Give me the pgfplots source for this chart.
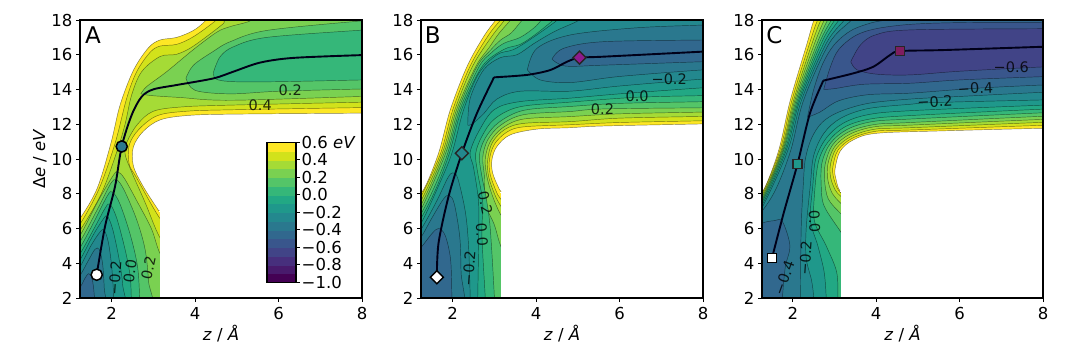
\documentclass[border=0pt]{standalone}
\usepackage{fontspec}
\setmainfont{DejaVu Sans}
\usepackage{pgfplots}
\pgfplotsset{compat=1.18}
\definecolor{vA}{HTML}{FDE725}\definecolor{vB}{HTML}{D2E21B}\definecolor{vC}{HTML}{A5DB36}
\definecolor{vD}{HTML}{7AD151}\definecolor{vE}{HTML}{54C568}\definecolor{vF}{HTML}{35B779}
\definecolor{vG}{HTML}{22A884}\definecolor{vH}{HTML}{1F988B}\definecolor{vI}{HTML}{23888E}
\definecolor{vJ}{HTML}{2A788E}\definecolor{vK}{HTML}{31688E}\definecolor{vL}{HTML}{39568C}
\definecolor{vM}{HTML}{414487}\definecolor{vN}{HTML}{472F7D}\definecolor{vO}{HTML}{481A6C}\definecolor{vP}{HTML}{440154}
\definecolor{mkB}{HTML}{8E1A8E}\definecolor{mkC}{HTML}{7F1D5F}
\newcommand{\fs}{\fontsize{16.5}{18}\selectfont}
\newcommand{\ct}[2]{\addplot[smooth,tension=0.55,draw=black,draw opacity=0.5,line width=0.45pt,mark=none,fill=#1] coordinates {#2};}
\newcommand{\cl}[4]{\node[rotate=#3,opacity=0.8,font=\fontsize{14.5}{16}\selectfont,inner sep=0pt] at (axis cs:#1,#2) {#4};}
\newcommand{\cover}[1]{\addplot[fill=white,draw=white,line width=0pt,mark=none] coordinates {(3.15,1)(9,1)(9,#1)(3.15,#1)};}
\pgfplotsset{panel/.style={
  anchor=south west, scale only axis, width=282pt, height=278pt,
  xmin=1.24,xmax=8,ymin=2,ymax=18,
  xtick={2,4,6,8}, ytick={2,4,6,8,10,12,14,16,18},
  xtick pos=bottom, ytick pos=left, tick align=outside, major tick length=4pt,
  tick style={black,line width=0.9pt}, axis line style={line width=1.2pt},
  axis on top, tick label style={font=\fs},
  xticklabel style={yshift=-1.5pt},
  label style={font=\fs},
  xlabel={\textit{z} / \textit{Å}},
  /pgf/number format/assume math mode=true,
  xlabel style={yshift=1pt}},
  pth/.style={smooth,tension=0.5,draw=black!90!blue,line width=1.9pt,mark=none}
}
\begin{document}
\begin{tikzpicture}[x=1pt,y=1pt]
\path[use as bounding box] (0,0) rectangle (1080,354);
%% ---------- A ----------
\begin{axis}[panel,at={(80pt,56pt)},ylabel={Δ\textit{e} / \textit{eV}},ylabel style={yshift=-2pt}]
\ct{vA}{(1,6.0)(1.24,6.58)(1.65,8.3)(1.98,10.9)(2.2,13.1)(2.52,15.1)(2.88,16.4)(3.16,16.85)(3.56,17.0)(3.96,17.4)(4.24,17.94)(4.4,18.5)(8.5,18.6)(8.5,12.66)(8,12.64)(4.84,12.58)(3.8,12.5)(3.16,12.25)(2.76,11.6)(2.52,10.7)(2.52,9.6)(2.76,8.4)(3.12,7.05)(3.3,6.4)(3.3,1)(1,1)}
\ct{vB}{(1,5.7)(1.24,6.25)(1.7,8.3)(2.08,10.9)(2.36,13.5)(2.6,15.03)(2.92,16.14)(3.16,16.5)(3.56,16.6)(3.96,17.04)(4.48,17.94)(4.7,18.5)(8.5,18.6)(8.5,12.98)(8,12.96)(4.84,12.83)(3.8,12.75)(3.1,12.5)(2.65,11.7)(2.42,10.8)(2.42,9.7)(2.6,8.9)(3.15,6.6)(3.5,5.8)(3.5,1)(1,1)}
\ct{vC}{(1,5.4)(1.24,5.9)(1.75,8.0)(2.12,10.4)(2.32,12)(2.48,13.7)(2.72,15.03)(3.16,15.9)(3.56,16.03)(3.96,16.5)(4.68,17.8)(4.85,18.3)(8.5,18.6)(8.5,13.29)(8,13.27)(4.84,13.1)(3.7,13.0)(3.0,12.75)(2.62,12.0)(2.37,11)(2.32,10.3)(2.47,9.3)(2.8,7.5)(3.15,5.5)(3.5,4.5)(3.5,1)(1,1)}
\ct{vD}{(2.7,13.75)(2.84,14.17)(3.32,15.03)(3.96,16.3)(4.52,17.3)(4.84,17.62)(5.32,17.95)(5.6,18.5)(8.5,18.6)(8.5,13.62)(8,13.6)(4.84,13.38)(3.64,13.54)(2.95,13.65)(2.7,13.75)}
\ct{vD}{(1,5.0)(1.24,5.6)(1.7,7.7)(2.05,9.1)(2.15,9.25)(2.3,8.9)(2.6,7.6)(2.95,6.0)(3.15,4.6)(3.5,3)(3.5,1)(1,1)}
\ct{vE}{(3.78,14.65)(3.96,15.4)(4.44,16.2)(4.84,16.75)(5.72,17.4)(8,17.95)(8.5,18.0)(8.5,14.05)(8,14.03)(6,13.9)(4.84,13.75)(4.0,13.95)(3.78,14.65)}
\ct{vF}{(4.44,15.0)(4.6,15.89)(4.92,16.46)(5.72,17.0)(8,17.42)(8.5,17.5)(8.5,14.57)(8,14.55)(6,14.45)(4.92,14.45)(4.5,14.6)(4.44,15.0)}
\ct{vE}{(1,4.7)(1.24,5.25)(1.7,7.3)(1.98,8.6)(2.12,8.8)(2.3,8.2)(2.6,6.5)(2.8,4.8)(2.88,3)(2.88,1)(1,1)}
\ct{vF}{(1,4.3)(1.24,4.9)(1.6,6.5)(1.9,7.9)(2.02,8.1)(2.2,7.4)(2.45,5.6)(2.62,3.8)(2.67,2)(2.67,1)(1,1)}
\ct{vG}{(1,4.0)(1.24,4.55)(1.6,6.1)(1.85,7.2)(1.96,7.4)(2.12,6.6)(2.32,4.8)(2.44,3.3)(2.47,2)(2.47,1)(1,1)}
\ct{vH}{(1,3.6)(1.24,4.2)(1.55,5.6)(1.8,6.55)(1.9,6.7)(2.03,5.9)(2.18,4.2)(2.26,2.8)(2.27,1)(1,1)}
\ct{vI}{(1,3.2)(1.24,3.8)(1.5,5)(1.72,5.8)(1.82,5.9)(1.92,5.2)(2.0,3.8)(2.05,2)(2.05,1)(1,1)}
\ct{vJ}{(1,2.7)(1.24,3.3)(1.45,4.2)(1.6,4.8)(1.7,4.8)(1.78,4.0)(1.82,2.6)(1.83,1)(1,1)}
\ct{vK}{(1,2.0)(1.24,2.6)(1.35,3.1)(1.45,3.4)(1.53,3.1)(1.58,2.2)(1.58,1)(1,1)}
\cover{7.0}
\addplot[pth] coordinates {(1.64,3.34)(1.84,6.12)(2.08,8.42)(2.24,10.72)(2.48,12.54)(2.72,13.59)(3.0,14.01)(3.56,14.26)(4.44,14.64)(4.92,15.03)(5.56,15.55)(6.36,15.82)(8,15.98)};
\addplot[only marks,mark=*,mark size=5.6pt,mark options={fill=white,draw=black,line width=1.5pt}] coordinates {(1.64,3.34)};
\addplot[only marks,mark=*,mark size=5.6pt,mark options={fill=vJ,draw=black,line width=1.5pt}] coordinates {(2.24,10.72)};
\cl{6.28}{13.98}{0}{0.2}\cl{5.56}{13.07}{0}{0.4}
\cl{2.08}{3.15}{86}{−0.2}\cl{2.44}{3.53}{82}{0.0}\cl{2.88}{3.72}{78}{0.2}
\node[anchor=west,font=\fontsize{23}{25}\selectfont,inner sep=0pt] at (axis cs:1.36,17.15) {A};
\end{axis}
%% ---------- colour bar ----------
\begin{axis}[at={(267pt,71.7pt)},anchor=south west,scale only axis,width=29pt,height=140pt,
  xmin=0,xmax=1,ymin=-1,ymax=0.6,xtick=\empty,
  ytick={-1,-0.8,-0.6,-0.4,-0.2,0,0.2,0.4,0.6},
  yticklabels={−1.0,−0.8,−0.6,−0.4,−0.2,0.0,0.2,0.4,{0.6 \textit{eV}}},
  ytick pos=right,tick align=outside,major tick length=4pt,tick style={black,line width=0.9pt},
  axis line style={line width=1.1pt},axis on top,
  tick label style={font=\fs,inner sep=1.5pt},yticklabel style={anchor=west}]
\addplot[fill=vP,draw=vP,line width=.2pt] coordinates {(0,-1)(1,-1)(1,-.9)(0,-.9)};
\addplot[fill=vO,draw=vO,line width=.2pt] coordinates {(0,-.9)(1,-.9)(1,-.8)(0,-.8)};
\addplot[fill=vN,draw=vN,line width=.2pt] coordinates {(0,-.8)(1,-.8)(1,-.7)(0,-.7)};
\addplot[fill=vM,draw=vM,line width=.2pt] coordinates {(0,-.7)(1,-.7)(1,-.6)(0,-.6)};
\addplot[fill=vL,draw=vL,line width=.2pt] coordinates {(0,-.6)(1,-.6)(1,-.5)(0,-.5)};
\addplot[fill=vK,draw=vK,line width=.2pt] coordinates {(0,-.5)(1,-.5)(1,-.4)(0,-.4)};
\addplot[fill=vJ,draw=vJ,line width=.2pt] coordinates {(0,-.4)(1,-.4)(1,-.3)(0,-.3)};
\addplot[fill=vI,draw=vI,line width=.2pt] coordinates {(0,-.3)(1,-.3)(1,-.2)(0,-.2)};
\addplot[fill=vH,draw=vH,line width=.2pt] coordinates {(0,-.2)(1,-.2)(1,-.1)(0,-.1)};
\addplot[fill=vG,draw=vG,line width=.2pt] coordinates {(0,-.1)(1,-.1)(1,0)(0,0)};
\addplot[fill=vF,draw=vF,line width=.2pt] coordinates {(0,0)(1,0)(1,.1)(0,.1)};
\addplot[fill=vE,draw=vE,line width=.2pt] coordinates {(0,.1)(1,.1)(1,.2)(0,.2)};
\addplot[fill=vD,draw=vD,line width=.2pt] coordinates {(0,.2)(1,.2)(1,.3)(0,.3)};
\addplot[fill=vC,draw=vC,line width=.2pt] coordinates {(0,.3)(1,.3)(1,.4)(0,.4)};
\addplot[fill=vB,draw=vB,line width=.2pt] coordinates {(0,.4)(1,.4)(1,.5)(0,.5)};
\addplot[fill=vA,draw=vA,line width=.2pt] coordinates {(0,.5)(1,.5)(1,.6)(0,.6)};
\end{axis}
%% ---------- B ----------
\begin{axis}[panel,at={(421pt,56pt)}]
\ct{vA}{(1.0,7.6)(1.3,8.23)(1.66,10.33)(1.94,12.82)(2.34,15.31)(2.74,17.04)(3.02,17.96)(3.2,18.5)(8.5,18.6)(8.5,12.06)(8,12.02)(5.62,11.9)(4.8,11.8)(4.02,11.72)(3.38,11.39)(3.06,10.72)(2.94,9.95)(2.96,9.18)(3.12,8.25)(3.22,7.9)(3.4,7)(3.4,1)(1,1)}
\ct{vB}{(1,7.3)(1.24,7.85)(1.71,10.33)(2.0,12.82)(2.41,15.31)(2.85,17.1)(3.14,17.98)(3.35,18.5)(8.5,18.6)(8.5,12.24)(8,12.2)(6,12.1)(4.8,11.97)(3.7,11.85)(3.3,11.55)(3.0,10.85)(2.88,9.95)(2.9,9.1)(3.05,8.1)(3.15,7.7)(3.5,6.5)(3.5,1)(1,1)}
\ct{vC}{(1,7.05)(1.24,7.6)(1.75,10.33)(2.05,12.82)(2.47,15.31)(2.92,17.0)(3.24,17.98)(3.4,18.5)(8.5,18.6)(8.5,12.47)(8,12.45)(6,12.35)(4.8,12.15)(3.7,12.05)(3.25,11.7)(2.95,10.95)(2.84,9.95)(2.86,9)(3.0,8)(3.15,7.3)(3.5,6)(3.5,1)(1,1)}
\ct{vD}{(1,6.8)(1.24,7.35)(1.79,10.33)(2.09,12.82)(2.55,15.31)(2.87,16.4)(3.1,17.2)(3.38,17.98)(3.55,18.5)(8.5,18.6)(8.5,12.72)(8,12.7)(6,12.6)(4.8,12.44)(3.7,12.3)(3.2,11.8)(2.9,11)(2.78,10)(2.82,9)(2.95,7.9)(3.15,6.8)(3.5,5.5)(3.5,1)(1,1)}
\ct{vE}{(1,6.55)(1.24,7.1)(1.83,10.33)(2.13,12.82)(2.58,15.31)(2.9,16.25)(3.15,16.85)(3.4,17.25)(3.66,17.98)(3.85,18.5)(8.5,18.6)(8.5,12.97)(8,12.95)(5.6,12.88)(4.8,12.73)(3.7,12.55)(3.15,11.95)(2.84,11.1)(2.72,10.1)(2.76,9.0)(2.78,7.46)(3.0,6.2)(3.15,5.0)(3.5,3)(3.5,1)(1,1)}
\ct{vF}{(1,6.3)(1.24,6.85)(1.6,8.6)(1.88,10.33)(2.17,12.82)(2.63,15.31)(2.92,16.1)(3.22,16.65)(3.62,17.0)(3.95,17.55)(4.12,17.98)(4.3,18.5)(8.5,18.6)(8.5,13.35)(8,13.3)(6,13.2)(4.8,13.02)(3.7,12.8)(3.1,12.1)(2.78,11.2)(2.64,10.2)(2.7,9.0)(2.8,7.8)(2.9,6)(3.0,2)(3,1)(1,1)}
\ct{vG}{(1,6.05)(1.24,6.6)(1.6,8.3)(1.92,10.33)(2.21,12.82)(2.7,15.31)(3.22,16.3)(3.62,16.6)(4.0,17.2)(4.4,17.98)(4.6,18.5)(8.5,18.6)(8.5,13.7)(8,13.65)(6.4,13.55)(4.8,13.27)(3.6,13.0)(3.0,12.3)(2.7,11.3)(2.55,10.3)(2.6,9.2)(2.72,7.5)(2.7,5.6)(2.78,2)(2.78,1)(1,1)}
\ct{vH}{(1,5.75)(1.24,6.3)(1.65,8.4)(1.98,10.33)(2.26,12.82)(2.62,14.9)(3.06,16.0)(3.46,16.3)(3.9,16.95)(4.5,17.98)(4.7,18.5)(8.5,18.6)(8.5,14.15)(8,14.1)(6,13.75)(4.8,13.5)(3.6,13.3)(3.0,12.85)(2.65,11.7)(2.42,10.4)(2.5,9.5)(2.62,7.5)(2.62,5)(2.6,2)(2.6,1)(1,1)}
\ct{vI}{(2.36,11.95)(2.42,13.5)(2.74,15.13)(3.14,15.83)(3.54,16.0)(3.95,16.65)(4.45,17.35)(5.0,17.95)(5.3,18.5)(8.5,18.5)(8.5,14.65)(8,14.6)(6,14.2)(4.8,13.9)(3.62,13.9)(3.06,13.45)(2.74,12.6)(2.46,12.0)(2.36,11.95)}
\ct{vJ}{(3.79,15.13)(4.02,16.37)(4.82,17.14)(6.4,17.55)(8,17.71)(8.5,17.75)(8.5,15.15)(8,15.13)(6,14.75)(4.82,14.4)(4.1,14.55)(3.79,15.13)}
\ct{vK}{(4.38,15.75)(4.66,16.37)(5.6,16.75)(8,16.85)(8.5,16.87)(8.5,15.62)(8,15.6)(5.6,15.4)(4.7,15.35)(4.38,15.75)}
\ct{vI}{(1,5.3)(1.24,5.95)(1.6,7.5)(1.88,8.9)(2.0,9.2)(2.12,8.9)(2.3,7)(2.38,5)(2.42,2)(2.42,1)(1,1)}
\ct{vJ}{(1,4.9)(1.24,5.5)(1.5,6.6)(1.78,7.7)(1.92,7.9)(2.04,7.4)(2.17,5.5)(2.2,3.5)(2.22,1)(1,1)}
\ct{vK}{(1,4.3)(1.24,4.9)(1.5,5.7)(1.66,6.0)(1.82,5.6)(1.95,4.2)(1.98,2)(1.98,1)(1,1)}
\cover{8.1}
\addplot[pth] coordinates {(1.62,3.19)(1.66,5.16)(1.9,7.84)(2.22,10.33)(2.58,12.63)(2.99,14.7)};
\addplot[pth] coordinates {(2.99,14.7)(3.78,14.84)(4.34,15.12)(4.74,15.6)(5.04,15.83)(5.62,15.89)(8,16.18)};
\addplot[only marks,mark=square*,mark size=4.6pt,mark options={rotate=45,fill=white,draw=black,line width=1.4pt}] coordinates {(1.62,3.19)};
\addplot[only marks,mark=square*,mark size=4.6pt,mark options={rotate=45,fill=vI,draw=black!85,line width=1.4pt}] coordinates {(2.22,10.33)};
\addplot[only marks,mark=square*,mark size=4.6pt,mark options={rotate=45,fill=mkB,draw=black!85,line width=1.4pt}] coordinates {(5.04,15.83)};
\cl{7.19}{14.59}{0}{−0.2}\cl{6.42}{13.59}{0}{0.0}\cl{5.59}{12.88}{0}{0.2}
\cl{2.78}{7.46}{-78}{0.2}\cl{2.7}{5.64}{-86}{0.0}\cl{2.39}{3.72}{86}{−0.2}
\node[anchor=west,font=\fontsize{23}{25}\selectfont,inner sep=0pt] at (axis cs:1.33,17.15) {B};
\end{axis}
%% ---------- C ----------
\begin{axis}[panel,at={(762pt,56pt)},width=281pt,xmin=1.26]
\ct{vA}{(1,7.6)(1.3,8.23)(1.66,10.5)(1.94,13.4)(2.34,16.65)(2.5,17.96)(2.65,18.6)(8.5,18.6)(8.5,11.79)(8,11.77)(5.6,11.62)(4.01,11.48)(3.45,11.1)(3.13,10.43)(3.01,9.38)(3.03,8.9)(3.09,8.35)(3.2,7.85)(3.35,7)(3.35,1)(1,1)}
\ct{vB}{(1,7.5)(1.26,8.0)(1.69,10.5)(1.98,13.4)(2.4,16.65)(2.59,17.98)(2.75,18.6)(8.5,18.6)(8.5,11.96)(8,11.94)(4.82,11.67)(4.0,11.6)(3.43,11.2)(3.08,10.5)(2.96,9.55)(2.97,9.0)(3.05,8.4)(3.15,8.05)(3.5,7.2)(3.5,1)(1,1)}
\ct{vC}{(1,7.4)(1.26,7.9)(1.72,10.5)(2.02,13.4)(2.46,16.65)(2.67,17.98)(2.85,18.6)(8.5,18.6)(8.5,12.13)(8,12.11)(4.82,11.8)(3.98,11.72)(3.4,11.3)(3.04,10.6)(2.9,9.65)(2.91,8.9)(3.02,8.2)(3.15,7.85)(3.5,7)(3.5,1)(1,1)}
\ct{vD}{(1,7.3)(1.26,7.8)(1.74,10.5)(2.05,13.4)(2.52,16.65)(2.75,17.98)(2.9,18.6)(8.5,18.6)(8.5,12.3)(8,12.28)(4.82,11.95)(3.95,11.85)(3.37,11.43)(3.0,10.7)(2.84,9.7)(2.84,8.8)(2.95,8)(3.15,7.45)(3.5,6.6)(3.5,1)(1,1)}
\ct{vE}{(1,7.2)(1.26,7.7)(1.76,10.5)(2.08,13.4)(2.58,16.65)(2.83,17.98)(3,18.6)(8.5,18.6)(8.5,12.48)(8,12.46)(4.82,12.1)(3.95,11.98)(3.33,11.55)(2.95,10.8)(2.78,9.75)(2.76,8.8)(2.85,7.7)(3.15,6.85)(3.5,6)(3.5,1)(1,1)}
\ct{vF}{(1,7.1)(1.26,7.6)(1.78,10.5)(2.11,13.4)(2.63,16.65)(2.92,17.98)(3.1,18.6)(8.5,18.6)(8.5,12.68)(8,12.66)(4.82,12.3)(3.9,12.15)(3.3,11.7)(2.9,10.9)(2.7,9.8)(2.68,8.5)(2.75,7.3)(3.15,5.8)(3.5,4.5)(3.5,1)(1,1)}
\ct{vG}{(1,7.0)(1.26,7.5)(1.81,10.5)(2.14,13.4)(2.68,16.65)(3.0,17.98)(3.2,18.6)(8.5,18.6)(8.5,12.89)(8,12.87)(4.82,12.5)(3.85,12.3)(3.25,11.85)(2.85,11)(2.62,9.9)(2.52,8)(2.52,6.41)(2.8,5)(3.05,3.5)(3.08,2)(3.08,1)(1,1)}
\ct{vH}{(1,6.85)(1.26,7.35)(1.84,10.5)(2.17,13.4)(2.74,16.65)(3.1,17.98)(3.3,18.6)(8.5,18.6)(8.5,13.12)(8,13.1)(4.82,12.78)(3.8,12.55)(3.2,12.05)(2.8,11.2)(2.55,10)(2.48,8.5)(2.42,6.5)(2.6,5)(2.75,3.5)(2.8,2)(2.8,1)(1,1)}
\ct{vI}{(1,6.7)(1.26,7.2)(1.88,10.5)(2.21,13.4)(2.8,16.65)(3.23,17.98)(3.45,18.6)(8.5,18.6)(8.5,13.42)(8,13.4)(5.41,13.25)(4.82,13.15)(3.8,12.9)(3.15,12.35)(2.75,11.5)(2.5,10.2)(2.42,8.5)(2.32,6)(2.32,4.3)(2.45,3)(2.5,2)(2.5,1)(1,1)}
\ct{vJ}{(1,6.5)(1.26,7.0)(1.6,8.3)(1.95,10.5)(2.26,13.4)(2.87,16.65)(3.4,17.98)(3.6,18.5)(8.5,18.6)(8.5,13.86)(8,13.84)(6,13.6)(4.82,13.45)(3.8,13.2)(3.1,12.7)(2.7,12.1)(2.45,11.2)(2.3,10)(2.25,8.5)(2.2,6)(2.18,2)(2.18,1)(1,1)}
\ct{vK}{(2.35,12.4)(2.5,14)(2.72,15.5)(3.0,16.6)(3.4,17.4)(3.9,17.85)(4.3,18.05)(4.5,18.5)(8.5,18.5)(8.5,14.28)(8,14.26)(6.38,14.07)(4.82,13.79)(3.8,13.7)(3.1,13.35)(2.65,12.7)(2.35,12.4)}
\ct{vL}{(2.74,14.0)(2.9,15.3)(3.1,16.3)(3.5,17.1)(4.0,17.5)(4.82,17.75)(6,17.85)(8,17.87)(8.5,17.9)(8.5,14.76)(8,14.74)(6,14.55)(4.82,14.36)(3.7,14.3)(3.0,14.05)(2.74,14.0)}
\ct{vM}{(3.39,15.6)(3.62,16.56)(3.98,17.14)(4.82,17.43)(8,17.5)(8.5,17.5)(8.5,15.32)(8,15.3)(6,15.05)(4.82,14.84)(4.02,14.88)(3.54,15.13)(3.39,15.6)}
\ct{vK}{(1,5.8)(1.26,6.3)(1.55,6.45)(1.75,6.4)(1.93,5.0)(1.82,3.8)(1.75,2)(1.75,1)(1,1)}
\cover{8.15}
\addplot[pth] coordinates {(1.5,4.3)(1.78,6.89)(2.11,9.7)(2.41,12.63)(2.73,14.51)};
\addplot[pth] coordinates {(2.73,14.51)(3.45,14.93)(3.93,15.31)(4.33,15.98)(4.57,16.21)(5.61,16.27)(8,16.46)};
\addplot[only marks,mark=square*,mark size=4.5pt,mark options={fill=white,draw=black,line width=1.4pt}] coordinates {(1.5,4.3)};
\addplot[only marks,mark=square*,mark size=4.5pt,mark options={fill=vH,draw=black!85,line width=1.4pt}] coordinates {(2.11,9.7)};
\addplot[only marks,mark=square*,mark size=4.5pt,mark options={fill=mkC,draw=black!85,line width=1.4pt}] coordinates {(4.57,16.21)};
\cl{7.24}{15.31}{0}{−0.6}\cl{6.38}{14.07}{3}{−0.4}\cl{5.41}{13.3}{3}{−0.2}
\cl{2.52}{6.41}{-88}{0.0}\cl{2.3}{4.3}{86}{−0.2}\cl{1.79}{3.15}{70}{−0.4}
\node[anchor=west,font=\fontsize{23}{25}\selectfont,inner sep=0pt] at (axis cs:1.36,17.15) {C};
\end{axis}
\end{tikzpicture}
\end{document}
